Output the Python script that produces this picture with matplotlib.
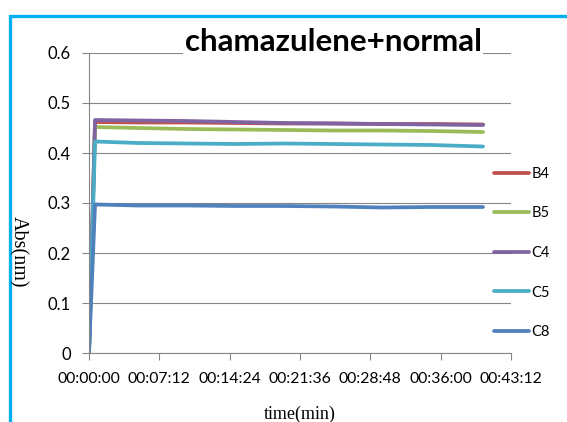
import numpy as np
import matplotlib
matplotlib.use("Agg")
from matplotlib import pyplot as plt
from matplotlib.ticker import FuncFormatter, MultipleLocator
from matplotlib.patches import Rectangle

# time in seconds, absorbance
t = [0, 37, 300, 600, 900, 1200, 1500, 1800, 2100, 2420]
B4 = [0, 0.462, 0.461, 0.461, 0.460, 0.459, 0.459, 0.458, 0.458, 0.457]
B5 = [0, 0.452, 0.450, 0.448, 0.447, 0.446, 0.445, 0.445, 0.444, 0.442]
C4 = [0, 0.466, 0.465, 0.464, 0.462, 0.460, 0.459, 0.458, 0.457, 0.456]
C5 = [0, 0.423, 0.420, 0.419, 0.418, 0.419, 0.418, 0.417, 0.416, 0.413]
C8 = [0, 0.297, 0.295, 0.295, 0.294, 0.294, 0.293, 0.291, 0.292, 0.292]

series = {"B4": B4, "B5": B5, "C4": C4, "C5": C5, "C8": C8}
colores = {"B4": "#C0504D", "B5": "#9BBB59", "C4": "#8064A2", "C5": "#4BACC6", "C8": "#4F81BD"}

def hhmmss(x, pos):
    s = int(round(x))
    return "%02d:%02d:%02d" % (s // 3600, (s % 3600) // 60, s % 60)

fig = plt.figure(figsize=(5.67, 4.22), dpi=100)
ax = fig.add_axes([89/567, 69/422, 422/567, 300/422])

for nombre, vals in series.items():
    ax.plot(t, vals, color=colores[nombre], lw=2.7, label=nombre, solid_capstyle="round")

ax.set_xlim(0, 2592)
ax.set_ylim(0, 0.6)
ax.xaxis.set_major_locator(MultipleLocator(432))
ax.xaxis.set_major_formatter(FuncFormatter(hhmmss))
ax.yaxis.set_major_locator(MultipleLocator(0.1))
ax.yaxis.set_major_formatter(FuncFormatter(lambda v, p: "0" if v == 0 else "%.1f" % v))
ax.grid(axis="y", color="#868686", lw=0.8)
ax.set_axisbelow(True)
for s in ["top", "right"]:
    ax.spines[s].set_visible(False)
for s in ["left", "bottom"]:
    ax.spines[s].set_color("#868686")
    ax.spines[s].set_linewidth(0.8)
ax.tick_params(axis="both", color="#868686", length=5, width=0.8)
ax.tick_params(axis="y", pad=8, labelsize=12)
ax.tick_params(axis="x", pad=9, labelsize=11.3)
for lab in ax.get_xticklabels() + ax.get_yticklabels():
    lab.set_family("Lato")

ax.set_xlabel("time(min)", family="Liberation Serif", fontsize=13, labelpad=14)
fig.text(18/567, 1 - 252/422, "Abs(nm)", rotation=-90, family="Liberation Serif",
         fontsize=14.5, ha="center", va="center")

fig.text(333/567, 1 - 42/422, "chamazulene+normal", family="Lato", fontweight="bold",
         fontsize=22.5, ha="center", va="center",
         bbox=dict(facecolor="white", edgecolor="none", pad=1))

leg = fig.legend(*ax.get_legend_handles_labels(), loc="center left",
                 bbox_to_anchor=(487/567, 1 - 253/422), frameon=False, borderpad=0,
                 prop={"family": "Lato", "size": 10.5}, handlelength=2.4,
                 handletextpad=0.15, labelspacing=1.75)

# blue frame around the chart
fig.add_artist(Rectangle((10/567, -0.1), 1.2, 1 - 15.5/422 + 0.1, transform=fig.transFigure,
                         fill=False, edgecolor="#00B0F0", lw=2.4))

plt.savefig("out.png", dpi=100)
